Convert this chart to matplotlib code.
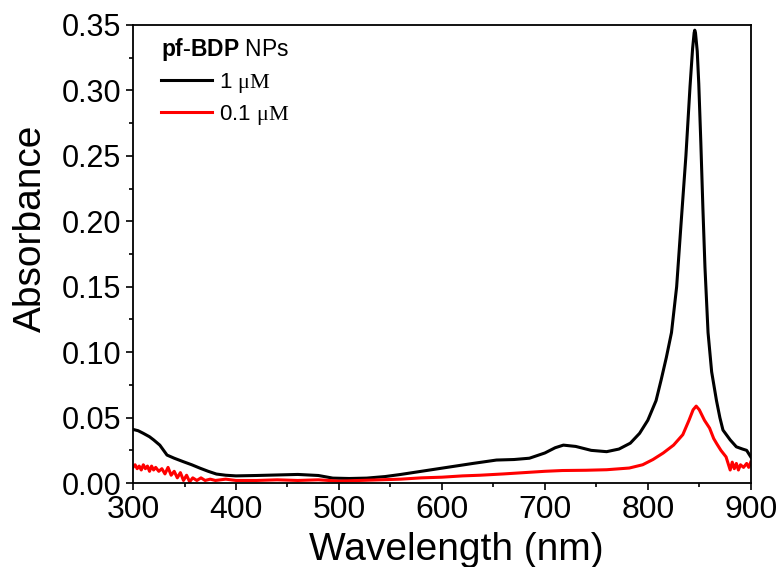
"""
pf-BDP NPs 吸收光谱
"""
import matplotlib
matplotlib.use('Agg')
import matplotlib.pyplot as plt
from matplotlib.ticker import MultipleLocator, FormatStrFormatter

plt.rcParams['font.family'] = ['Liberation Sans', 'DejaVu Sans']
plt.rcParams['mathtext.fontset'] = 'custom'
plt.rcParams['mathtext.rm'] = 'Liberation Serif'
plt.rcParams['mathtext.bf'] = 'Liberation Sans:bold'

# 1 uM 曲线 (波长 nm, 吸光度)
wl_1uM = [300, 305, 310, 316, 320, 326, 333, 340, 349, 357, 365, 373, 381, 390,
          400, 420, 440, 460, 480, 494, 510, 527, 545, 560, 580, 605, 630, 653,
          670, 685, 700, 710, 718, 730, 745, 760, 772, 783, 792, 800, 808, 813,
          818, 823, 828, 832, 837, 841, 843.5, 845, 845.6, 846.3, 848, 849.5,
          851.5, 853.5, 855.5, 858.5, 862, 866.7, 870, 873, 880, 886, 892, 896, 900]
abs_1uM = [0.041, 0.040, 0.038, 0.0354, 0.033, 0.029, 0.0214, 0.019, 0.0163,
           0.014, 0.0114, 0.009, 0.0069, 0.006, 0.0055, 0.0058, 0.0062, 0.0066,
           0.0058, 0.0038, 0.0035, 0.0038, 0.005, 0.0066, 0.009, 0.012, 0.015,
           0.0176, 0.018, 0.019, 0.023, 0.027, 0.029, 0.028, 0.025, 0.024,
           0.026, 0.0305, 0.038, 0.048, 0.063, 0.079, 0.096, 0.115, 0.15,
           0.195, 0.25, 0.303, 0.332, 0.344, 0.346, 0.344, 0.33, 0.305, 0.26,
           0.21, 0.165, 0.115, 0.085, 0.063, 0.05, 0.0405, 0.033, 0.0277, 0.026,
           0.025, 0.02]

# 0.1 uM 曲线
wl_01uM = [300, 302, 304, 306, 308, 310, 312, 314, 316, 318, 320, 322, 325, 328,
           331, 334, 337, 340, 343, 346, 349, 352, 355, 358, 362, 366, 370, 375,
           380, 390, 400, 420, 440, 460, 480, 500, 520, 540, 560, 580, 600, 620,
           637, 660, 680, 700, 717, 740, 760, 782, 795, 805, 815, 825, 834, 840,
           844, 847, 850, 855, 860, 864, 867, 871, 876, 878, 880, 882, 884, 886,
           888, 890, 893, 896, 898, 900]
abs_01uM = [0.012, 0.014, 0.011, 0.013, 0.010, 0.014, 0.011, 0.013, 0.009, 0.013,
            0.010, 0.012, 0.009, 0.011, 0.007, 0.012, 0.006, 0.009, 0.004, 0.008,
            0.002, 0.006, 0.001, 0.004, 0.002, 0.004, 0.002, 0.003, 0.002, 0.003,
            0.002, 0.002, 0.0025, 0.002, 0.0025, 0.0015, 0.002, 0.0025, 0.003,
            0.004, 0.0045, 0.0055, 0.006, 0.007, 0.008, 0.009, 0.0096, 0.0098,
            0.0102, 0.0115, 0.014, 0.018, 0.023, 0.029, 0.037, 0.048, 0.056,
            0.0588, 0.056, 0.048, 0.042, 0.034, 0.030, 0.025, 0.020, 0.015,
            0.010, 0.016, 0.011, 0.015, 0.010, 0.014, 0.012, 0.015, 0.012, 0.016]

fig = plt.figure(figsize=(7.78, 5.67), dpi=100)
ax = fig.add_axes([0.171, 0.148, 0.794, 0.808])

ax.plot(wl_1uM, abs_1uM, color='black', lw=2.2, label=r'1 $\mathrm{\mu M}$')
ax.plot(wl_01uM, abs_01uM, color='red', lw=2.2, label=r'0.1 $\mathrm{\mu M}$')

ax.set_xlim(300, 900)
ax.set_ylim(0, 0.35)
ax.xaxis.set_major_locator(MultipleLocator(100))
ax.xaxis.set_minor_locator(MultipleLocator(50))
ax.yaxis.set_major_locator(MultipleLocator(0.05))
ax.yaxis.set_minor_locator(MultipleLocator(0.025))
ax.yaxis.set_major_formatter(FormatStrFormatter('%.2f'))
ax.tick_params(which='major', direction='out', length=5, width=1.2)
ax.tick_params(which='minor', direction='out', length=3, width=1.2)
ax.tick_params(axis='x', labelsize=23)
ax.tick_params(axis='y', labelsize=22)
for sp in ax.spines.values():
    sp.set_linewidth(1.3)

ax.set_xlabel('Wavelength (nm)', fontsize=28)
ax.set_ylabel('Absorbance', fontsize=28)
ax.xaxis.set_label_coords(0.523, -0.106)
ax.yaxis.set_label_coords(-0.136, 0.557)

leg = ax.legend(loc='upper left', bbox_to_anchor=(0.031, 0.995),
                borderaxespad=0, frameon=False, fontsize=16,
                title=r'$\mathbf{pf}$' + r'$\mathbf{\text{-}BDP}$' + ' NPs',
                title_fontsize=16.5, handlelength=2.3, handletextpad=0.3,
                labelspacing=0.35)
leg._legend_box.align = 'left'

fig.savefig('out.png', dpi=100)
